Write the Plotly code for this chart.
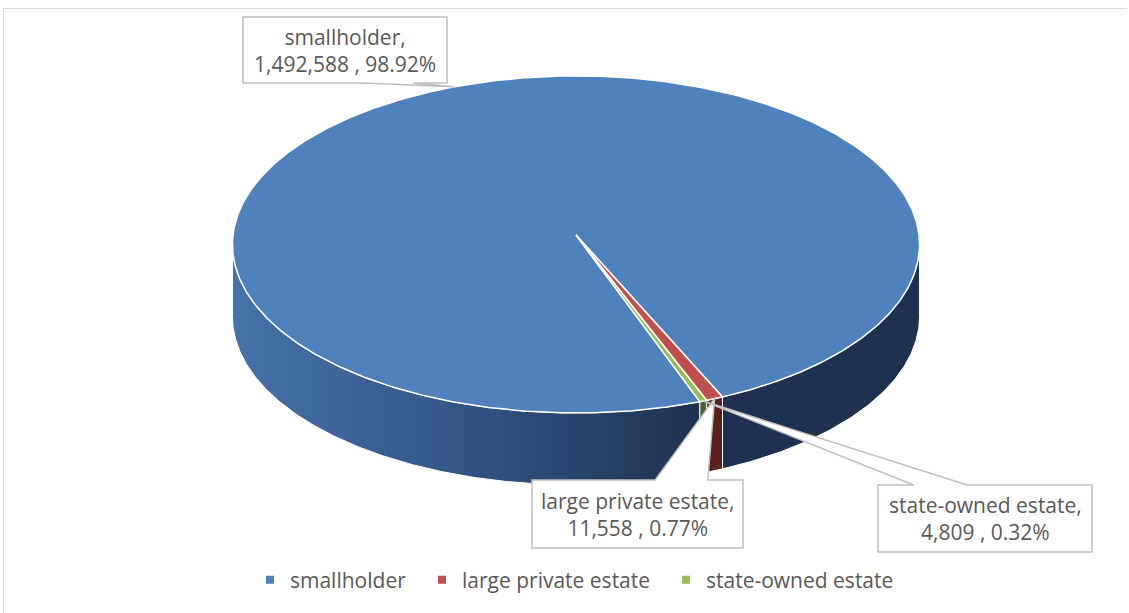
import numpy as np
import plotly.graph_objects as go

# ---- data ----
categories = ["smallholder", "large private estate", "state-owned estate"]
values = [1492588, 11558, 4809]
top_colors = ["#4f81bd", "#c0504d", "#9bbb59"]
side_colors = ["#1f3150", "#5b1f1e", "#4f6128"]
first_slice_angle = 160  # degrees, clockwise from 12 o'clock

# ---- 3D pie geometry (pixel space) ----
W, H = 1129, 613
CX, CY = 576, 235          # projected pie centre
RX, RY = 343, 168          # projected radii
PERSP = 0.056              # far side shrink factor
DEPTH = 72                 # pie thickness on screen
FONT = "Open Sans"
TXT = "#595959"


def proj(theta_deg, drop=0.0):
    t = np.radians(theta_deg)
    u, v = np.sin(t), np.cos(t)
    s = 1.0 / (1.0 + PERSP * v)
    return CX + RX * u * s, CY - RY * v * s + drop


def arc(a0, a1, drop=0.0, n=None):
    if n is None:
        n = max(int(abs(a1 - a0) * 2) + 2, 3)
    th = np.linspace(a0, a1, n)
    return proj(th, drop)


total = float(sum(values))
fracs = [v / total for v in values]
bounds = []
a = first_slice_angle
for f in fracs:
    bounds.append((a, a + 360 * f))
    a += 360 * f

# silhouette angles of the cylinder wall
dense = np.linspace(0, 360, 36001)
xd, _ = proj(dense)
right_sil = dense[:18000][np.argmax(xd[:18000])]
left_sil = dense[18000:][np.argmin(xd[18000:])]

fig = go.Figure()


def visible_parts(a0, a1):
    parts = []
    for k in (-1, 0, 1, 2):
        lo, hi = right_sil + 360 * k, left_sil + 360 * k
        s, e = max(a0, lo), min(a1, hi)
        if e > s:
            parts.append((s, e))
    return parts


# side walls
for i, (a0, a1) in enumerate(bounds):
    for (s, e) in visible_parts(a0, a1):
        tx, ty = arc(s, e)
        bx, by = arc(s, e, DEPTH)
        xs = np.concatenate([tx, bx[::-1], tx[:1]])
        ys = np.concatenate([ty, by[::-1], ty[:1]])
        kw = dict(fillcolor=side_colors[i])
        if i == 0 and 150 < (s % 360) < 200:
            # front-left wall, lit from the left
            kw = dict(fillgradient=dict(
                type="horizontal",
                colorscale=[[0, "#4672aa"], [0.45, "#345889"], [1, "#1f3150"]]))
        fig.add_trace(go.Scatter(
            x=xs, y=ys, mode="lines", fill="toself",
            line=dict(color="white", width=1),
            hoverinfo="skip", showlegend=False, **kw))

# top faces
for i, (a0, a1) in enumerate(bounds):
    ax_, ay_ = arc(a0, a1)
    xs = np.concatenate([[CX], ax_, [CX]])
    ys = np.concatenate([[CY], ay_, [CY]])
    fig.add_trace(go.Scatter(
        x=xs, y=ys, mode="lines", fill="toself", fillcolor=top_colors[i],
        line=dict(color="white", width=1.5),
        name=categories[i], hoverinfo="name", showlegend=False))

# legend entries
legend_x = [250, 422, 666]
for i, c in enumerate(categories):
    lg = "legend" if i == 0 else f"legend{i + 1}"
    fig.add_trace(go.Scatter(
        x=[None], y=[None], mode="markers", name=c,
        marker=dict(symbol="square", size=8, color=top_colors[i]),
        legend=lg, showlegend=True))

legend_style = dict(orientation="h", yanchor="middle", y=1 - 580 / H,
                    xanchor="left", bgcolor="rgba(0,0,0,0)",
                    font=dict(family=FONT, size=21, color=TXT))
layout_legends = {}
for i, lx in enumerate(legend_x):
    key = "legend" if i == 0 else f"legend{i + 1}"
    layout_legends[key] = dict(legend_style, x=lx / W)

# ---- data label callouts ----
label_boxes = [(243, 17, 447, 83, "bottom"),
               (532, 480, 743, 548, "top"),
               (878, 485, 1092, 552, "top")]
shapes = [
    dict(type="line", xref="x", yref="y", x0=3.5, y0=8.5, x1=1127, y1=8.5,
         line=dict(color="#d9d9d9", width=1)),
    dict(type="line", xref="x", yref="y", x0=3.5, y0=8.5, x1=3.5, y1=H,
         line=dict(color="#d9d9d9", width=1)),
]
annotations = []
for i, (x0, y0, x1, y1, side) in enumerate(label_boxes):
    mid = (bounds[i][0] + bounds[i][1]) / 2
    px, py = proj(mid)
    w = x1 - x0
    if px > (x0 + x1) / 2:
        b1, b2 = x0 + w * 7 / 12, x0 + w * 10 / 12
    else:
        b1, b2 = x0 + w * 2 / 12, x0 + w * 5 / 12
    if side == "bottom":
        path = (f"M{x0},{y0} L{x1},{y0} L{x1},{y1} L{b2},{y1} L{px},{py} "
                f"L{b1},{y1} L{x0},{y1} Z")
    else:
        path = (f"M{x0},{y0} L{b1},{y0} L{px},{py} L{b2},{y0} L{x1},{y0} "
                f"L{x1},{y1} L{x0},{y1} Z")
    shapes.append(dict(type="path", xref="x", yref="y", path=path,
                       fillcolor="white", line=dict(color="#bfbfbf", width=1.5)))
    pct = 100 * values[i] / total
    annotations.append(dict(
        x=(x0 + x1) / 2, y=(y0 + y1) / 2, xref="x", yref="y",
        text=f"{categories[i]},<br>{values[i]:,} , {pct:.2f}%",
        showarrow=False, align="center",
        font=dict(family=FONT, size=21, color=TXT)))

fig.update_layout(
    width=W, height=H, margin=dict(l=0, r=0, t=0, b=0),
    paper_bgcolor="white", plot_bgcolor="white",
    xaxis=dict(range=[0, W], visible=False, fixedrange=True),
    yaxis=dict(range=[H, 0], visible=False, fixedrange=True),
    shapes=shapes, annotations=annotations,
    **layout_legends,
)

fig.write_html("out.html")
